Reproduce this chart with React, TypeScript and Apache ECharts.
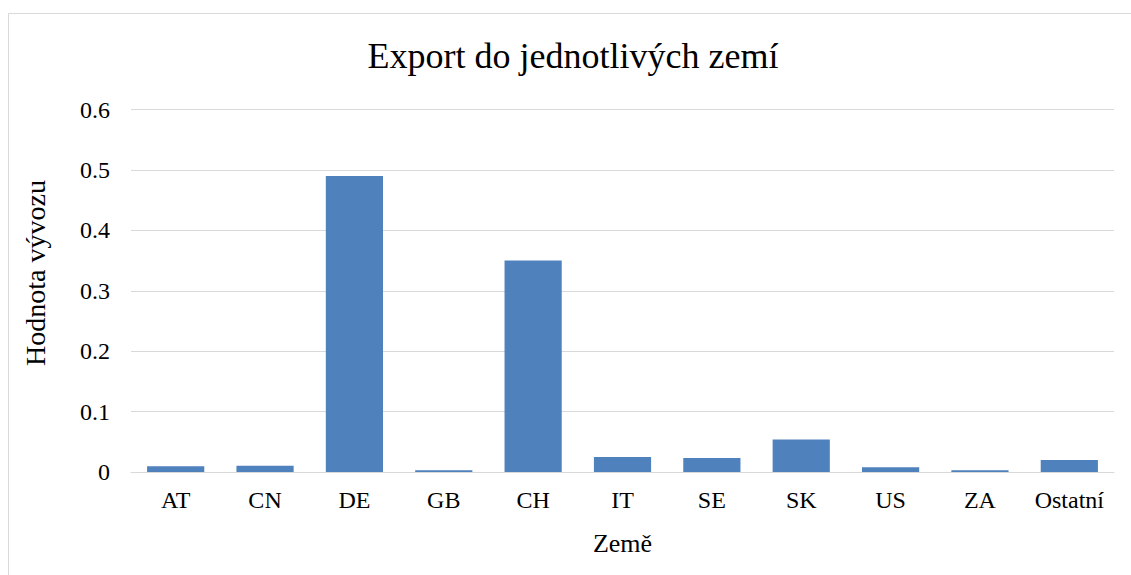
import React, { useEffect, useRef } from "react";
import * as echarts from "echarts";

const categories = ["AT", "CN", "DE", "GB", "CH", "IT", "SE", "SK", "US", "ZA", "Ostatní"];
const values = [0.0095, 0.0105, 0.49, 0.003, 0.35, 0.025, 0.023, 0.054, 0.008, 0.003, 0.02];
const yTicks = { min: 0, max: 0.6, interval: 0.1 };
const titleText = "Export do jednotlivých zemí";
const xName = "Země";
const yName = "Hodnota vývozu";

export default function App() {
  const ref = useRef<HTMLDivElement>(null);
  useEffect(() => {
    document.body.style.margin = "0";
    document.body.style.overflow = "hidden";
    const chart = echarts.init(ref.current!, null, { renderer: "svg" });
    const font = "'Liberation Serif', 'Times New Roman', serif";
    chart.setOption({
      animation: false,
      textStyle: { fontFamily: font, color: "#000" },
      title: {
        text: titleText,
        left: 568,
        textAlign: "center",
        top: 33,
        textStyle: { fontFamily: font, fontSize: 36, fontWeight: "normal", color: "#000" },
      },
      graphic: [
        {
          type: "rect",
          shape: { x: 8.5, y: 13.5, width: 1200, height: 700 },
          style: { fill: "none", stroke: "#d9d9d9", lineWidth: 1 },
          silent: true,
        },
        {
          type: "text",
          x: 35,
          y: 273,
          rotation: Math.PI / 2,
          style: {
            text: yName,
            fontFamily: font,
            fontSize: 28,
            fill: "#000",
            align: "center",
            verticalAlign: "middle",
          },
          silent: true,
        },
      ],
      grid: { left: 131, right: 17, top: 109.5, bottom: 103, containLabel: false },
      xAxis: {
        type: "category",
        data: categories,
        name: xName,
        nameLocation: "middle",
        nameGap: 58,
        nameTextStyle: { fontFamily: font, fontSize: 26, color: "#000" },
        axisLine: { lineStyle: { color: "#d9d9d9", width: 1 } },
        axisTick: { show: false },
        axisLabel: { fontFamily: font, fontSize: 24, color: "#000", margin: 16, interval: 0, hideOverlap: false },
      },
      yAxis: {
        type: "value",
        min: yTicks.min,
        max: yTicks.max,
        interval: yTicks.interval,
        axisLine: { show: false },
        axisTick: { show: false },
        splitLine: { lineStyle: { color: "#d9d9d9", width: 1 } },
        axisLabel: {
          fontFamily: font,
          fontSize: 24,
          color: "#000",
          margin: 21,
          formatter: (v: number) => (v === 0 ? "0" : String(Math.round(v * 10) / 10)),
        },
      },
      series: [
        {
          type: "bar",
          data: values,
          barCategoryGap: "36%",
          itemStyle: { color: "#4f81bd" },
        },
      ],
    });
    return () => chart.dispose();
  }, []);
  return <div ref={ref} style={{ width: 1131, height: 575 }} />;
}
